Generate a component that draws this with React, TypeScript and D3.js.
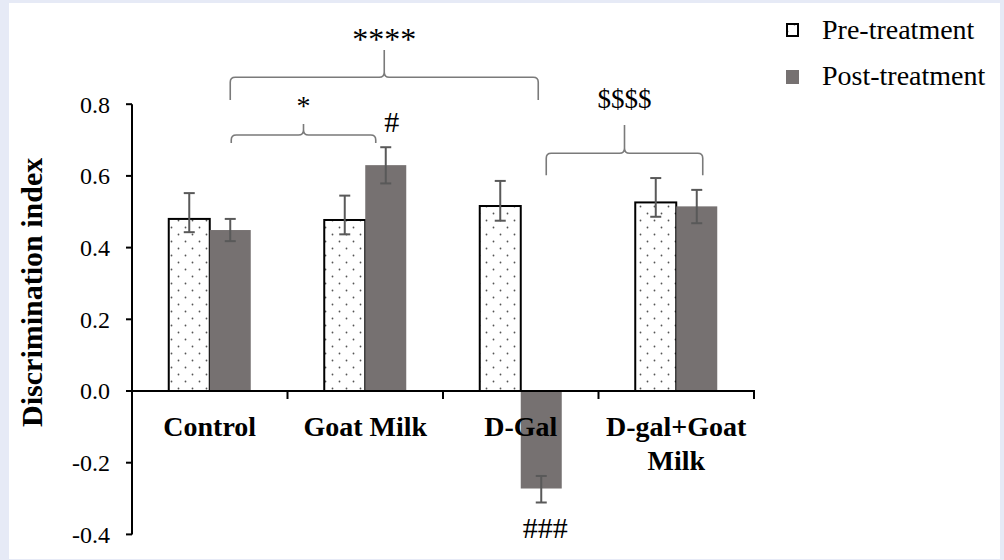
import React from "react";
import * as d3 from "d3";

const categories = ["Control", "Goat Milk", "D-Gal", "D-gal+Goat Milk"];
const categoryLines = [["Control"], ["Goat Milk"], ["D-Gal"], ["D-gal+Goat", "Milk"]];
const seriesNames = ["Pre-treatment", "Post-treatment"];
const preValues = [0.48, 0.477, 0.516, 0.526];
const preHigh = [0.552, 0.545, 0.586, 0.594];
const preLow = [0.443, 0.437, 0.475, 0.486];
const postValues = [0.449, 0.63, -0.272, 0.515];
const postHigh = [0.48, 0.68, -0.237, 0.561];
const postLow = [0.418, 0.579, -0.311, 0.468];
const yTicks = [-0.4, -0.2, 0, 0.2, 0.4, 0.6, 0.8];

// significance annotations (in data space)
const braces = [
  { from: [0, "post"], to: [2, "post"], dx1: 0, dx2: -3, yLine: 0.875, yEnd: 0.812, yTip: 0.951, label: "****", yLabel: 0.951, size: 32 },
  { from: [0, "post"], to: [1, "post"], dx1: 1, dx2: -10, yLine: 0.714, yEnd: 0.692, yTip: 0.745, label: "*", yLabel: 0.77, size: 28 },
  { from: [2, "post"], to: [3, "post"], dx1: 5, dx2: 6, yLine: 0.663, yEnd: 0.602, yTip: 0.742, label: "$$$$", yLabel: 0.79, size: 27 },
];
const marks = [
  { cat: 1, series: "post", dx: 6, y: 0.723, label: "#", size: 30 },
  { cat: 2, series: "post", dx: 4, y: -0.411, label: "###", size: 30 },
];

const W = 1004;
const H = 560;
const FONT = "'Liberation Serif', 'Times New Roman', serif";
const POST_FILL = "#767171";
const ERR = "#595959";

export default function App() {
  const x = d3.scaleBand<string>().domain(categories).range([132, 754]).padding(0);
  const barW = 41;
  const xs = d3
    .scaleBand<string>()
    .domain(["pre", "post"])
    .range([x.bandwidth() / 2 - barW, x.bandwidth() / 2 + barW])
    .padding(0);
  const y = d3.scaleLinear().domain([-0.4, 0.8]).range([534.4, 104.2]);
  const y0 = y(0);

  const cx = (ci: number, s: string) => (x(categories[ci]) as number) + (xs(s) as number) + xs.bandwidth() / 2;

  const bracePath = (x1: number, x2: number, yl: number, ye: number, tipX: number, yt: number) => {
    const r = 5;
    return [
      `M${x1},${ye}`,
      `L${x1},${yl + r}`,
      `Q${x1},${yl} ${x1 + r},${yl}`,
      `L${tipX - r},${yl}`,
      `Q${tipX},${yl} ${tipX},${yl - r}`,
      `L${tipX},${yt}`,
      `M${tipX},${yl - r}`,
      `Q${tipX},${yl} ${tipX + r},${yl}`,
      `L${x2 - r},${yl}`,
      `Q${x2},${yl} ${x2},${yl + r}`,
      `L${x2},${ye}`,
    ].join(" ");
  };

  const fmt = (v: number) => (v < 0 ? "-" : "") + d3.format(".1f")(Math.abs(v));

  const series = [
    { key: "pre", values: preValues, hi: preHigh, lo: preLow },
    { key: "post", values: postValues, hi: postHigh, lo: postLow },
  ];

  return (
    <svg
      width={W}
      height={H}
      style={{ position: "absolute", left: 0, top: 0, display: "block" }}
      fontFamily={FONT}
    >
      <defs>
        <pattern id="dots" width={14} height={14} patternUnits="userSpaceOnUse">
          <rect width={14} height={14} fill="#ffffff" />
          <circle cx={3.5} cy={3.5} r={0.9} fill="#555" />
          <circle cx={10.5} cy={10.5} r={0.9} fill="#555" />
        </pattern>
      </defs>
      <rect x={0} y={0} width={W} height={H} fill="#e6eaf6" />
      <rect x={9} y={3} width={991} height={556} fill="#ffffff" />

      {/* bars */}
      {series.map((s) =>
        categories.map((c, i) => {
          const v = s.values[i];
          const bx = (x(c) as number) + (xs(s.key) as number);
          const top = Math.min(y(v), y0);
          const h = Math.abs(y(v) - y0);
          return s.key === "pre" ? (
            <rect key={s.key + c} x={bx} y={top} width={xs.bandwidth()} height={h} fill="url(#dots)" stroke="#000" strokeWidth={2} />
          ) : (
            <rect key={s.key + c} x={bx} y={top} width={xs.bandwidth()} height={h} fill={POST_FILL} />
          );
        })
      )}

      {/* error bars */}
      {series.map((s) =>
        categories.map((c, i) => {
          const ex = cx(i, s.key);
          const capW = 5.5;
          return (
            <g key={"e" + s.key + c} stroke={ERR} strokeWidth={2}>
              <line x1={ex} x2={ex} y1={y(s.hi[i])} y2={y(s.lo[i])} />
              <line x1={ex - capW} x2={ex + capW} y1={y(s.hi[i])} y2={y(s.hi[i])} />
              <line x1={ex - capW} x2={ex + capW} y1={y(s.lo[i])} y2={y(s.lo[i])} />
            </g>
          );
        })
      )}

      {/* y axis */}
      <line x1={132} x2={132} y1={y(0.8)} y2={y(-0.4)} stroke="#000" strokeWidth={2} />
      {yTicks.map((t) => (
        <g key={"yt" + t}>
          <line x1={126} x2={132} y1={y(t)} y2={y(t)} stroke="#000" strokeWidth={2} />
          <text x={110} y={y(t)} dy="0.35em" textAnchor="end" fontSize={24} fill="#000">
            {fmt(t)}
          </text>
        </g>
      ))}

      {/* x axis */}
      <line x1={132} x2={755} y1={y0} y2={y0} stroke="#000" strokeWidth={2} />
      {categories.map((c) => {
        const tx = (x(c) as number) + x.bandwidth();
        return <line key={"xt" + c} x1={tx} x2={tx} y1={y0} y2={y0 + 8} stroke="#000" strokeWidth={2} />;
      })}
      {categories.map((c, i) => (
        <text
          key={"xl" + c}
          x={(x(c) as number) + x.bandwidth() / 2}
          y={436}
          textAnchor="middle"
          fontSize={28}
          fontWeight="bold"
          fill="#000"
        >
          {categoryLines[i].map((line, li) => (
            <tspan key={li} x={(x(c) as number) + x.bandwidth() / 2} dy={li === 0 ? 0 : 34}>
              {line}
            </tspan>
          ))}
        </text>
      ))}

      {/* y title */}
      <text
        transform={`translate(42,${(y(0.8) + y(-0.4)) / 2 - 27}) rotate(-90)`}
        textAnchor="middle"
        fontSize={30}
        fontWeight="bold"
        fill="#000"
      >
        Discrimination index
      </text>

      {/* braces */}
      {braces.map((b, i) => {
        const x1 = cx(b.from[0] as number, b.from[1] as string) + b.dx1;
        const x2 = cx(b.to[0] as number, b.to[1] as string) + b.dx2;
        const tipX = (x1 + x2) / 2;
        return (
          <g key={"b" + i}>
            <path d={bracePath(x1, x2, y(b.yLine), y(b.yEnd), tipX, y(b.yTip))} fill="none" stroke="#7a7a7a" strokeWidth={1.6} />
            <text x={tipX} y={y(b.yLabel)} textAnchor="middle" fontSize={b.size} fill="#000">
              {b.label}
            </text>
          </g>
        );
      })}
      {marks.map((m, i) => (
        <text key={"m" + i} x={cx(m.cat, m.series) + m.dx} y={y(m.y)} textAnchor="middle" fontSize={m.size} fill="#000">
          {m.label}
        </text>
      ))}

      {/* legend */}
      <g>
        <rect x={787} y={24} width={11} height={12} fill="url(#dots)" stroke="#000" strokeWidth={2} />
        <text x={822} y={39} fontSize={28} fill="#000">
          {seriesNames[0]}
        </text>
        <rect x={786} y={70} width={13} height={14} fill={POST_FILL} />
        <text x={822} y={85} fontSize={28} fill="#000">
          {seriesNames[1]}
        </text>
      </g>
    </svg>
  );
}
